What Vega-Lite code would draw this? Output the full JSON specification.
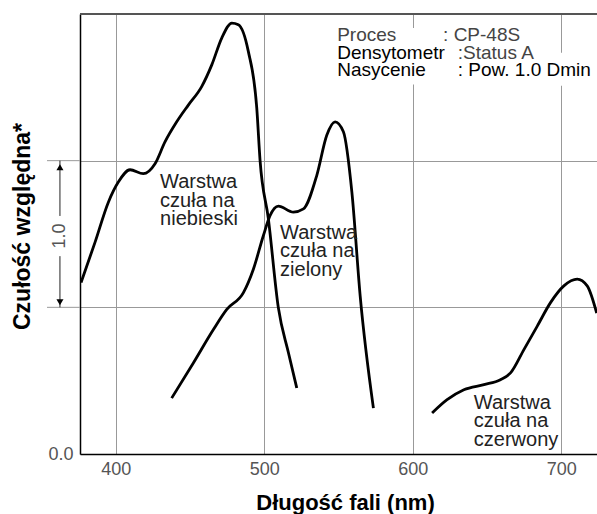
{
  "$schema": "https://vega.github.io/schema/vega-lite/v6.json",
  "width": 517,
  "height": 440,
  "autosize": "none",
  "padding": {"left": 80, "top": 14, "right": 0, "bottom": 60},
  "config": {
    "font": "Liberation Sans",
    "view": {"stroke": null},
    "axis": {"gridColor": "#999", "gridWidth": 1, "ticks": false, "domainColor": "#000", "domainWidth": 1.5}
  },
  "datasets": {
    "curves": [
      {"series": "blue", "nm": 376.7, "s": 1.169},
      {"series": "blue", "nm": 386.1, "s": 1.443},
      {"series": "blue", "nm": 395.1, "s": 1.717},
      {"series": "blue", "nm": 401.8, "s": 1.854},
      {"series": "blue", "nm": 409.7, "s": 1.938},
      {"series": "blue", "nm": 418.6, "s": 1.911},
      {"series": "blue", "nm": 426.5, "s": 1.979},
      {"series": "blue", "nm": 433.2, "s": 2.128},
      {"series": "blue", "nm": 441.1, "s": 2.265},
      {"series": "blue", "nm": 448.9, "s": 2.379},
      {"series": "blue", "nm": 457.9, "s": 2.505},
      {"series": "blue", "nm": 464.7, "s": 2.653},
      {"series": "blue", "nm": 471.4, "s": 2.836},
      {"series": "blue", "nm": 478.2, "s": 2.938},
      {"series": "blue", "nm": 482.6, "s": 2.927},
      {"series": "blue", "nm": 489.3, "s": 2.745},
      {"series": "blue", "nm": 495.0, "s": 2.356},
      {"series": "blue", "nm": 497.2, "s": 2.002},
      {"series": "blue", "nm": 502.8, "s": 1.603},
      {"series": "blue", "nm": 509.5, "s": 0.998},
      {"series": "blue", "nm": 516.3, "s": 0.69},
      {"series": "blue", "nm": 521.9, "s": 0.45},
      {"series": "green", "nm": 437.7, "s": 0.381},
      {"series": "green", "nm": 452.3, "s": 0.621},
      {"series": "green", "nm": 465.8, "s": 0.849},
      {"series": "green", "nm": 474.8, "s": 0.986},
      {"series": "green", "nm": 486.0, "s": 1.10},
      {"series": "green", "nm": 492.7, "s": 1.26},
      {"series": "green", "nm": 499.4, "s": 1.488},
      {"series": "green", "nm": 503.9, "s": 1.625},
      {"series": "green", "nm": 509.5, "s": 1.69},
      {"series": "green", "nm": 519.6, "s": 1.649},
      {"series": "green", "nm": 526.4, "s": 1.671},
      {"series": "green", "nm": 535.4, "s": 1.90},
      {"series": "green", "nm": 542.1, "s": 2.173},
      {"series": "green", "nm": 547.7, "s": 2.265},
      {"series": "green", "nm": 553.3, "s": 2.197},
      {"series": "green", "nm": 559.0, "s": 1.786},
      {"series": "green", "nm": 564.6, "s": 1.077},
      {"series": "green", "nm": 573.5, "s": 0.313},
      {"series": "red", "nm": 613.0, "s": 0.279},
      {"series": "red", "nm": 623.1, "s": 0.37},
      {"series": "red", "nm": 634.4, "s": 0.438},
      {"series": "red", "nm": 647.9, "s": 0.473},
      {"series": "red", "nm": 659.0, "s": 0.507},
      {"series": "red", "nm": 665.8, "s": 0.553},
      {"series": "red", "nm": 674.8, "s": 0.712},
      {"series": "red", "nm": 683.8, "s": 0.872},
      {"series": "red", "nm": 692.7, "s": 1.032},
      {"series": "red", "nm": 701.7, "s": 1.146},
      {"series": "red", "nm": 710.7, "s": 1.192},
      {"series": "red", "nm": 717.4, "s": 1.146},
      {"series": "red", "nm": 723.8, "s": 0.96}
    ],
    "curveLabels": [
      {"nm": 429.9, "s": 1.854, "label": "Warstwa\nczuła na\nniebieski"},
      {"nm": 510.7, "s": 1.507, "label": "Warstwa\nczuła na\nzielony"},
      {"nm": 641.1, "s": 0.351, "label": "Warstwa\nczuła na\nczerwony"}
    ],
    "info": [
      {"nm": 549.1, "s": 2.855, "label": "Proces", "tone": "light"},
      {"nm": 620.4, "s": 2.855, "label": ": CP-48S", "tone": "light"},
      {"nm": 549.1, "s": 2.735, "label": "Densytometr", "tone": "dark"},
      {"nm": 630.3, "s": 2.735, "label": ":Status A", "tone": "light"},
      {"nm": 549.1, "s": 2.618, "label": "Nasycenie", "tone": "dark"},
      {"nm": 630.3, "s": 2.618, "label": ": Pow. 1.0 Dmin", "tone": "dark"}
    ],
    "boxes": [
      {"x1": 548.0, "x2": 669.0, "y1": 2.52, "y2": 2.905},
      {"x1": 669.0, "x2": 724.0, "y1": 2.51, "y2": 2.735}
    ],
    "stubs": [
      {"x1": 353.8, "x2": 376, "y": 1},
      {"x1": 353.8, "x2": 376, "y": 2}
    ],
    "topBorder": [
      {"x1": 376, "x2": 724, "y": 3}
    ],
    "arrowLines": [
      {"nm": 362.5, "y1": 1.623, "y2": 2.0},
      {"nm": 362.5, "y1": 1.0, "y2": 1.349}
    ],
    "arrowHeads": [
      {"nm": 362.5, "s": 1.955, "dir": "up"},
      {"nm": 362.5, "s": 1.035, "dir": "down"}
    ],
    "arrowLabel": [
      {"nm": 362.5, "s": 1.486, "label": "1.0"}
    ]
  },
  "layer": [
    {
      "data": {"name": "boxes"},
      "mark": {"type": "rect", "color": "#fff"},
      "encoding": {
        "x": {"field": "x1", "type": "quantitative", "scale": {"domain": [376, 724], "nice": false, "zero": false},
          "axis": {"values": [400, 500, 600, 700], "grid": true, "labelFontSize": 18, "labelColor": "#555", "labelPadding": 6,
            "title": "Długość fali (nm)", "titleFontSize": 22, "titleFontWeight": "bold", "titleColor": "#000",
            "titleX": 265, "titleY": 55, "titleBaseline": "alphabetic"}},
        "x2": {"field": "x2"},
        "y": {"field": "y1", "type": "quantitative", "scale": {"domain": [0, 3], "nice": false},
          "axis": {"values": [0, 1, 2], "grid": true, "labelExpr": "datum.value === 0 ? '0.0' : ''", "labelFontSize": 18, "labelColor": "#555", "labelPadding": 7,
            "title": "Czułość względna*", "titleFontSize": 23, "titleFontWeight": "bold", "titleColor": "#000",
            "titleX": -51, "titleY": 212, "titleBaseline": "alphabetic"}},
        "y2": {"field": "y2"}
      }
    },
    {
      "data": {"name": "stubs"},
      "mark": {"type": "rule", "color": "#999", "strokeWidth": 1},
      "encoding": {
        "x": {"field": "x1", "type": "quantitative"},
        "x2": {"field": "x2"},
        "y": {"field": "y", "type": "quantitative"}
      }
    },
    {
      "data": {"name": "topBorder"},
      "mark": {"type": "rule", "color": "#555", "strokeWidth": 2},
      "encoding": {
        "x": {"field": "x1", "type": "quantitative"},
        "x2": {"field": "x2"},
        "y": {"field": "y", "type": "quantitative"}
      }
    },
    {
      "data": {"name": "curves"},
      "mark": {"type": "line", "color": "#000", "strokeWidth": 2.8, "interpolate": "monotone", "clip": true},
      "encoding": {
        "x": {"field": "nm", "type": "quantitative"},
        "y": {"field": "s", "type": "quantitative"},
        "detail": {"field": "series", "type": "nominal"}
      }
    },
    {
      "data": {"name": "curveLabels"},
      "mark": {"type": "text", "align": "left", "baseline": "middle", "fontSize": 20, "lineHeight": 18.5, "lineBreak": "\n", "color": "#222"},
      "encoding": {
        "x": {"field": "nm", "type": "quantitative"},
        "y": {"field": "s", "type": "quantitative"},
        "text": {"field": "label"}
      }
    },
    {
      "data": {"name": "info"},
      "mark": {"type": "text", "align": "left", "baseline": "middle", "fontSize": 19},
      "encoding": {
        "x": {"field": "nm", "type": "quantitative"},
        "y": {"field": "s", "type": "quantitative"},
        "text": {"field": "label"},
        "color": {"field": "tone", "type": "nominal", "scale": {"domain": ["light", "dark"], "range": ["#444", "#000"]}, "legend": null}
      }
    },
    {
      "data": {"name": "arrowLines"},
      "mark": {"type": "rule", "color": "#222", "strokeWidth": 1},
      "encoding": {
        "x": {"field": "nm", "type": "quantitative"},
        "y": {"field": "y1", "type": "quantitative"},
        "y2": {"field": "y2"}
      }
    },
    {
      "data": {"name": "arrowHeads"},
      "mark": {"type": "point", "filled": true, "color": "#000", "size": 50, "opacity": 1},
      "encoding": {
        "x": {"field": "nm", "type": "quantitative"},
        "y": {"field": "s", "type": "quantitative"},
        "shape": {"field": "dir", "type": "nominal", "scale": {"domain": ["up", "down"], "range": ["triangle-up", "triangle-down"]}, "legend": null}
      }
    },
    {
      "data": {"name": "arrowLabel"},
      "mark": {"type": "text", "align": "center", "baseline": "middle", "angle": 270, "fontSize": 18, "color": "#555"},
      "encoding": {
        "x": {"field": "nm", "type": "quantitative"},
        "y": {"field": "s", "type": "quantitative"},
        "text": {"field": "label"}
      }
    }
  ]
}
